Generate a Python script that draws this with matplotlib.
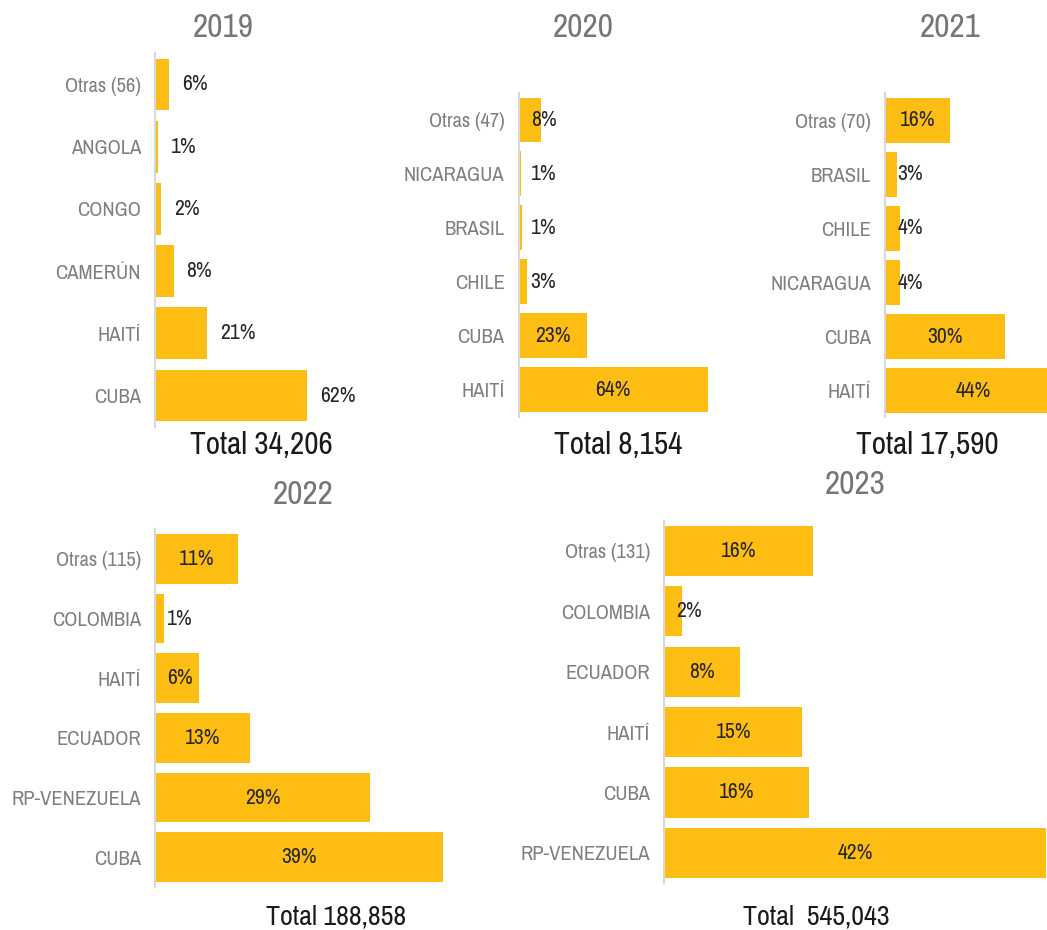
import matplotlib.pyplot as plt

plt.rcParams["font.family"] = ["Archivo Narrow", "Liberation Sans Narrow", "DejaVu Sans"]

W, H = 1047, 930

# datos (porcentaje del total), de arriba hacia abajo
paises_2019 = ["Otras (56)", "ANGOLA", "CONGO", "CAMERÚN", "HAITÍ", "CUBA"]
pct_2019 = [5.7, 1.1, 2.4, 7.6, 21.3, 62.0]

paises_2020 = ["Otras (47)", "NICARAGUA", "BRASIL", "CHILE", "CUBA", "HAITÍ"]
pct_2020 = [7.6, 1.0, 1.2, 3.0, 23.0, 64.0]

paises_2021 = ["Otras (70)", "BRASIL", "CHILE", "NICARAGUA", "CUBA", "HAITÍ"]
pct_2021 = [16.2, 3.0, 3.75, 3.75, 30.0, 44.0]

paises_2022 = ["Otras (115)", "COLOMBIA", "HAITÍ", "ECUADOR", "RP-VENEZUELA", "CUBA"]
pct_2022 = [11.2, 1.2, 6.0, 12.9, 29.1, 39.0]

paises_2023 = ["Otras (131)", "COLOMBIA", "ECUADOR", "HAITÍ", "CUBA", "RP-VENEZUELA"]
pct_2023 = [16.4, 2.0, 8.4, 15.2, 15.9, 42.0]

anios = ["2019", "2020", "2021", "2022", "2023"]
totales = ["Total 34,206", "Total 8,154", "Total 17,590", "Total 188,858", "Total  545,043"]

ORO = "#FDBD13"
GRIS = "#7f7f7f"

# paneles en píxeles: izquierda, arriba, abajo, ancho, px por %
paneles = [
    (paises_2019, pct_2019, 155, 53.4, 426.6, 245, 2.45, "fuera"),
    (paises_2020, pct_2020, 518.5, 93, 416.5, 207, 2.96, "centro"),
    (paises_2021, pct_2021, 885, 93.5, 417.5, 162, 4.0, "centro"),
    (paises_2022, pct_2022, 155, 529, 887, 369, 7.38, "centro"),
    (paises_2023, pct_2023, 664, 520.8, 883, 383, 9.1, "centro"),
]
pos_titulos = [(223, 28), (583, 28), (950, 28), (303, 495), (855, 485)]
pos_totales = [(261, 445), (618, 445), (927, 445), (336, 917), (816, 917)]
tam_totales = [22.5, 22.5, 22.5, 20.2, 20.2]

fig = plt.figure(figsize=(W / 100, H / 100), dpi=100)

for (paises, pct, x0, top, bot, ancho, ppu, modo) in paneles:
    ax = fig.add_axes([x0 / W, 1 - bot / H, ancho / W, (bot - top) / H])
    ax.patch.set_alpha(0)
    y = list(range(len(paises)))
    ax.barh(y, pct, height=0.83, color=ORO)
    ax.set_xlim(0, ancho / ppu)
    ax.set_ylim(len(paises) - 0.5, -0.5)
    ax.set_yticks(y)
    ax.set_yticklabels(paises, color=GRIS, fontsize=14.8)
    ax.tick_params(axis="y", length=0, pad=10)
    ax.set_xticks([])
    for s in ["top", "right", "bottom"]:
        ax.spines[s].set_visible(False)
    ax.spines["left"].set_color("#d9d9d9")
    ax.spines["left"].set_linewidth(1.5)
    for i, v in enumerate(pct):
        txt = f"{round(v)}%"
        if modo == "fuera":
            ax.annotate(txt, xy=(v, i), xytext=(13, 0), textcoords="offset pixels",
                        ha="left", va="center", fontsize=15.5, color="#262626")
        else:
            dx = max(v * ppu / 2, 25)
            ax.annotate(txt, xy=(0, i), xytext=(dx, 0), textcoords="offset pixels",
                        ha="center", va="center", fontsize=15.5, color="#262626")

for anio, (tx, ty) in zip(anios, pos_titulos):
    fig.text(tx / W, 1 - ty / H, anio, ha="center", va="center", fontsize=24, color="#767676")

for tot, (tx, ty), tam in zip(totales, pos_totales, tam_totales):
    fig.text(tx / W, 1 - ty / H, tot, ha="center", va="center", fontsize=tam, color="#1a1a1a")

fig.savefig("out.png", dpi=100)
